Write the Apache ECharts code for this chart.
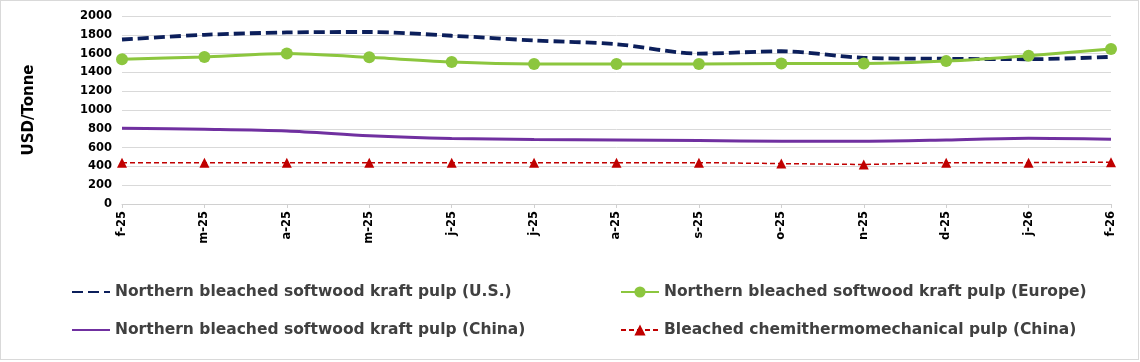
<!DOCTYPE html>
<html><head><meta charset="utf-8">
<script src="https://cdn.jsdelivr.net/npm/echarts@6/dist/echarts.min.js"></script>
<style>html,body{margin:0;padding:0;background:#fff}#wrap{position:absolute;left:0;top:0;width:1137px;height:358px;border:1px solid #d9d9d9;box-sizing:content-box}#c{width:1140px;height:362px;position:absolute;left:0;top:0}</style>
</head><body><div id="wrap"></div><div id="c"></div>
<script>
const categories = ['f-25','m-25','a-25','m-25','j-25','j-25','a-25','s-25','o-25','n-25','d-25','j-26','f-26'];
const usValues = [1750,1800,1825,1830,1790,1740,1700,1600,1625,1555,1545,1540,1565];
const europeValues = [1540,1565,1600,1560,1510,1490,1490,1490,1495,1495,1520,1578,1650];
const chinaValues = [805,795,777,727,698,686,681,676,668,668,681,700,690];
const bctmpValues = [440,440,440,440,440,440,440,440,430,420,440,440,445];
const yTicks = [0,200,400,600,800,1000,1200,1400,1600,1800,2000];
const names = ['Northern bleached softwood kraft pulp (U.S.)','Northern bleached softwood kraft pulp (Europe)','Northern bleached softwood kraft pulp (China)','Bleached chemithermomechanical pulp (China)'];

const font = 'DejaVu Sans';
const chart = echarts.init(document.getElementById('c'));
const legendText = {fontFamily: font, fontWeight: 'bold', fontSize: 15.5, color: '#404040'};
const noMark = {color: 'rgba(0,0,0,0)', borderWidth: 0};
chart.setOption({
  animation: false,
  grid: {left: 122, right: 29, top: 16, bottom: 158},
  xAxis: {
    type: 'category', data: categories, boundaryGap: false,
    axisLine: {lineStyle: {color: '#d0d0d0'}},
    axisTick: {show: true, lineStyle: {color: '#d0d0d0'}, length: 4},
    axisLabel: {rotate: 90, fontFamily: font, fontWeight: 'bold', fontSize: 11.5, color: '#000', margin: 7},
    splitLine: {show: false}
  },
  yAxis: {
    type: 'value', min: yTicks[0], max: yTicks[yTicks.length-1], interval: 200,
    name: 'USD/Tonne', nameLocation: 'middle', nameGap: 85, nameRotate: 90,
    nameTextStyle: {fontFamily: font, fontWeight: 'bold', fontSize: 15, color: '#000'},
    axisLine: {show: false}, axisTick: {show: false},
    axisLabel: {fontFamily: font, fontWeight: 'bold', fontSize: 11.5, color: '#000', margin: 10, formatter: v => String(v)},
    splitLine: {lineStyle: {color: '#d9d9d9', width: 1}}
  },
  legend: [
    {data: [{name: names[0], itemStyle: noMark}, {name: names[2], itemStyle: noMark}], orient: 'vertical', left: 66, top: 279, itemGap: 22, itemWidth: 38, itemHeight: 14, textStyle: legendText},
    {data: [names[1], names[3]], orient: 'vertical', left: 615, top: 279, itemGap: 22, itemWidth: 38, itemHeight: 14, textStyle: legendText}
  ],
  series: [
    {name: names[0], type: 'line', data: usValues, smooth: 0.3, symbol: 'none', z: 3,
     lineStyle: {color: '#0c1f5b', width: 3.8, type: [11, 5]}, itemStyle: {color: '#0c1f5b'}},
    {name: names[1], type: 'line', data: europeValues, smooth: 0.2, symbol: 'circle', symbolSize: 12, z: 4,
     lineStyle: {color: '#8cc63e', width: 3}, itemStyle: {color: '#8cc63e'}},
    {name: names[2], type: 'line', data: chinaValues, smooth: 0.3, symbol: 'none', z: 2,
     lineStyle: {color: '#7030a0', width: 3}, itemStyle: {color: '#7030a0'}},
    {name: names[3], type: 'line', data: bctmpValues, symbol: 'triangle', symbolSize: 10, z: 2,
     lineStyle: {color: '#c00000', width: 1.5, type: [5, 3]}, itemStyle: {color: '#c00000'}}
  ]
});
</script></body></html>
